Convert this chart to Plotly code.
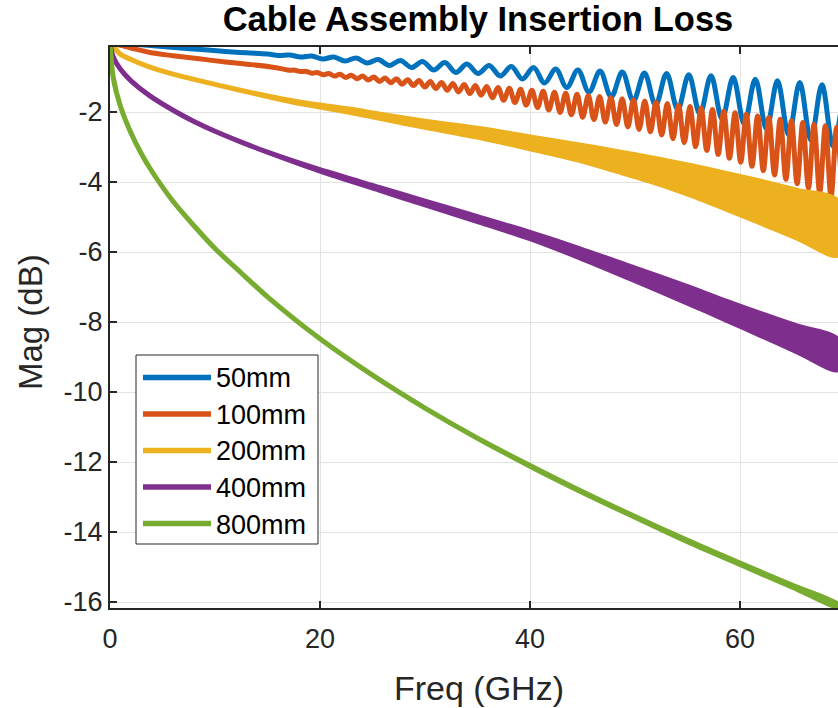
import plotly.graph_objects as go

# ---------------- data ----------------
names = ["50mm", "100mm", "200mm", "400mm", "800mm"]
colors = ["#0072BD", "#D95319", "#EDB120", "#7E2F8E", "#77AC30"]

# 50mm: smooth start, then alternating ripple peaks / troughs
f50 = [0, 2.6, 5, 8, 11, 13, 14.99, 16.05, 17.10, 18.15, 19.21, 20.27, 21.32, 22.38,
       23.44, 24.49, 25.55, 26.60, 27.66, 28.72, 29.77, 30.83, 31.89, 32.94, 34.00,
       35.05, 36.11, 37.17, 38.22, 39.28, 40.34, 41.39, 42.45, 43.50, 44.56, 45.62,
       46.67, 47.73, 48.79, 49.84, 50.90, 51.96, 53.01, 54.07, 55.12, 56.18, 57.24,
       58.29, 59.35, 60.40, 61.46, 62.52, 63.57, 64.63, 65.69, 66.74, 67.80, 68.86, 69.91]
mag50 = [0, -0.07, -0.13, -0.2, -0.27, -0.31, -0.343, -0.386, -0.371, -0.429, -0.4,
         -0.486, -0.429, -0.543, -0.457, -0.6, -0.5, -0.671, -0.529, -0.729, -0.557,
         -0.8, -0.586, -0.871, -0.629, -0.9, -0.671, -0.971, -0.7, -1.057, -0.729,
         -1.171, -0.771, -1.3, -0.8, -1.429, -0.829, -1.571, -0.857, -1.686, -0.886,
         -1.8, -0.9, -1.929, -0.937, -2.057, -0.966, -2.2, -1.014, -2.343, -1.063,
         -2.486, -1.109, -2.657, -1.157, -2.8, -1.223, -2.971, -1.286]

# 100mm: smooth start, then ripple peaks and troughs
f100_start = [0, 0.7, 2, 3.8, 6, 8.5, 11, 13.3, 15.5]
mag100_start = [0, -0.07, -0.17, -0.3, -0.39, -0.48, -0.57, -0.64, -0.72]
f100_peak = [16.52, 17.60, 18.68, 19.75, 20.83, 21.90, 22.98, 24.05, 25.13, 26.20,
             27.28, 28.35, 29.43, 30.50, 31.58, 32.65, 33.73, 34.80, 35.88, 36.95,
             38.03, 39.10, 40.18, 41.25, 42.33, 43.40, 44.48, 45.55, 46.63, 47.70,
             48.78, 49.85, 50.93, 52.00, 53.08, 54.15, 55.23, 56.30, 57.38, 58.45,
             59.53, 60.60, 61.68, 62.75, 63.83, 64.90, 65.98, 67.05, 68.13, 69.20]
mag100_peak = [-0.775, -0.805, -0.84, -0.871, -0.897, -0.923, -0.949, -0.974, -1.003,
               -1.029, -1.051, -1.077, -1.1, -1.129, -1.157, -1.186, -1.211, -1.24,
               -1.269, -1.297, -1.323, -1.351, -1.377, -1.406, -1.434, -1.463, -1.494,
               -1.526, -1.557, -1.589, -1.62, -1.651, -1.683, -1.714, -1.757, -1.8,
               -1.843, -1.889, -1.931, -1.977, -2.02, -2.063, -2.111, -2.157, -2.206,
               -2.251, -2.3, -2.349, -2.394, -2.443]
f100_trough = [17.06, 18.14, 19.21, 20.29, 21.37, 22.44, 23.52, 24.59, 25.67, 26.74,
               27.82, 28.89, 29.97, 31.04, 32.12, 33.19, 34.27, 35.34, 36.42, 37.49,
               38.57, 39.64, 40.72, 41.79, 42.87, 43.94, 45.02, 46.09, 47.17, 48.24,
               49.32, 50.39, 51.47, 52.54, 53.62, 54.69, 55.77, 56.84, 57.92, 58.99,
               60.07, 61.14, 62.22, 63.29, 64.37, 65.44, 66.52, 67.59, 68.67, 69.74]
mag100_trough = [-0.805, -0.845, -0.89, -0.937, -0.974, -1.011, -1.049, -1.086, -1.126,
                 -1.166, -1.206, -1.246, -1.286, -1.331, -1.38, -1.426, -1.474, -1.523,
                 -1.594, -1.663, -1.731, -1.803, -1.871, -1.94, -2.011, -2.08, -2.149,
                 -2.217, -2.289, -2.357, -2.426, -2.497, -2.566, -2.657, -2.766, -2.877,
                 -2.989, -3.097, -3.209, -3.32, -3.431, -3.549, -3.674, -3.797, -3.923,
                 -4.049, -4.174, -4.3, -4.423, -4.549]

# 200mm / 400mm / 800mm: ripple too dense to resolve -> upper / lower envelope
f200 = [0, 0.3, 1, 2, 3.8, 6, 9, 12, 15, 17.6, 20, 22.8, 25.7, 30, 35.2, 40, 44.7,
        48, 52.3, 55.5, 58.8, 62, 65.5, 69.3]
upper200 = [0, -0.12, -0.35, -0.5, -0.72, -0.92, -1.14, -1.35, -1.54, -1.69, -1.80,
            -1.915, -2.06, -2.26, -2.47, -2.71, -2.94, -3.11, -3.35, -3.54, -3.76,
            -3.98, -4.24, -4.54]
lower200 = [0, -0.12, -0.35, -0.5, -0.72, -0.92, -1.14, -1.35, -1.56, -1.73, -1.86,
            -2.005, -2.18, -2.44, -2.73, -3.05, -3.38, -3.67, -4.06, -4.4, -4.79,
            -5.18, -5.61, -6.09]

f400 = [0, 0.3, 1, 2, 3.8, 6.3, 8, 10, 12.5, 15.2, 20, 25.7, 30, 35, 40, 44.7, 50, 55,
        58.8, 62, 65.5, 69.3]
upper400 = [0, -0.42, -0.78, -1.11, -1.54, -2.0, -2.27, -2.55, -2.86, -3.17, -3.65,
            -4.16, -4.545, -4.99, -5.44, -5.9, -6.46, -6.99, -7.42, -7.76, -8.12, -8.5]
lower400 = [0, -0.42, -0.78, -1.11, -1.54, -2.0, -2.27, -2.55, -2.86, -3.17, -3.69,
            -4.24, -4.655, -5.13, -5.62, -6.16, -6.82, -7.46, -7.96, -8.39, -8.86, -9.36]

f800 = [0, 0.3, 1, 2, 3, 4, 6, 8, 10, 12.5, 15, 20, 25, 30, 35, 40, 45, 50, 55, 60, 65,
        69.3]
upper800 = [0, -1.0, -1.84, -2.6, -3.2, -3.7, -4.55, -5.25, -5.9, -6.6, -7.28, -8.48,
            -9.52, -10.46, -11.32, -12.1, -12.85, -13.56, -14.24, -14.89, -15.52, -16.06]
lower800 = [0, -1.0, -1.84, -2.6, -3.2, -3.7, -4.55, -5.25, -5.9, -6.6, -7.28, -8.48,
            -9.52, -10.46, -11.32, -12.12, -12.87, -13.58, -14.28, -14.93, -15.58, -16.14]

x_ticks = [0, 20, 40, 60]
x_ticktext = ["0", "20", "40", "60"]
y_ticks = [-16, -14, -12, -10, -8, -6, -4, -2]
y_ticktext = ["-16", "-14", "-12", "-10", "-8", "-6", "-4", "-2"]

# ---------------- figure ----------------
FONT = "Liberation Sans, Arial, Helvetica, sans-serif"
AX = "#262626"
LW = 5

# assemble 100mm series (start + interleaved peaks / troughs)
ripple100 = sorted(list(zip(f100_peak, mag100_peak)) + list(zip(f100_trough, mag100_trough)))
f100 = f100_start + [p[0] for p in ripple100]
mag100 = mag100_start + [p[1] for p in ripple100]

fig = go.Figure()
fig.add_trace(go.Scatter(x=f50, y=mag50, mode="lines", name=names[0], showlegend=False,
                         line=dict(color=colors[0], width=LW, shape="spline", smoothing=1)))
fig.add_trace(go.Scatter(x=f100, y=mag100, mode="lines", name=names[1], showlegend=False,
                         line=dict(color=colors[1], width=LW, shape="spline", smoothing=1)))

for name, col, fx, up, lo in [(names[2], colors[2], f200, upper200, lower200),
                              (names[3], colors[3], f400, upper400, lower400),
                              (names[4], colors[4], f800, upper800, lower800)]:
    fig.add_trace(go.Scatter(x=fx + fx[::-1], y=up + lo[::-1], mode="lines", name=name,
                             showlegend=False, fill="toself", fillcolor=col,
                             line=dict(color=col, width=LW, shape="spline", smoothing=0.8)))

# plot-area geometry (pixels)
L, R, T, B = 110, 838, 47, 608
W, H = 838, 708
PX = 10.5   # px per GHz
PY = 35.0   # px per dB
xmax = (R - L) / PX
ymax = -2 + (112 - T) / PY
ymin = -2 - (B - 112) / PY

def px(xp):
    return (xp - L) / (R - L)

def py(yp):
    return (B - yp) / (B - T)

shapes = []
annotations = []
# legend box
shapes.append(dict(type="rect", xref="paper", yref="paper", x0=px(136), x1=px(318),
                   y0=py(544), y1=py(355), line=dict(color=AX, width=1),
                   fillcolor="white", layer="above"))
leg_y = [377.5, 414, 450.5, 487, 523.5]
for i, (name, col) in enumerate(zip(names, colors)):
    shapes.append(dict(type="line", xref="paper", yref="paper", x0=px(143), x1=px(211),
                       y0=py(leg_y[i]), y1=py(leg_y[i]), line=dict(color=col, width=5.5),
                       layer="above"))
    annotations.append(dict(text=name, xref="paper", yref="paper", x=px(214),
                            y=py(leg_y[i] + 1), xanchor="left", yanchor="middle",
                            showarrow=False, font=dict(family=FONT, size=27, color="black")))

# axis titles (axes centre lies at ~478 px: the right part of the axes is cropped)
annotations.append(dict(text="Freq (GHz)", xref="paper", yref="paper", x=px(479), y=py(688),
                        xanchor="center", yanchor="middle", showarrow=False,
                        font=dict(family=FONT, size=34, color=AX)))
annotations.append(dict(text="Mag (dB)", xref="paper", yref="paper", x=px(30), y=py(322),
                        xanchor="center", yanchor="middle", showarrow=False, textangle=-90,
                        font=dict(family=FONT, size=33, color=AX)))

fig.update_layout(
    width=W, height=H,
    margin=dict(l=L, r=W - R, t=T, b=H - B, pad=0),
    paper_bgcolor="white", plot_bgcolor="white",
    title=dict(text="<b>Cable Assembly Insertion Loss</b>", x=px(478), xref="paper",
               y=1 - 19 / H, yref="container", xanchor="center", yanchor="middle",
               font=dict(family=FONT, size=34.5, color="black")),
    xaxis=dict(range=[0, xmax], tickvals=x_ticks, ticktext=x_ticktext, ticks="inside",
               ticklen=7, tickwidth=2, tickcolor=AX, showline=True, linecolor=AX,
               linewidth=2, mirror="ticks", showgrid=True, gridcolor="#e2e2e2",
               gridwidth=1, zeroline=False, ticklabelstandoff=6,
               tickfont=dict(family=FONT, size=27, color=AX)),
    yaxis=dict(range=[ymin, ymax], tickvals=y_ticks, ticktext=y_ticktext, ticks="inside",
               ticklen=7, tickwidth=2, tickcolor=AX, showline=True, linecolor=AX,
               linewidth=2, mirror=False, showgrid=True, gridcolor="#e2e2e2",
               gridwidth=1, zeroline=False,
               tickfont=dict(family=FONT, size=27, color=AX)),
    shapes=shapes, annotations=annotations, showlegend=False,
)

fig.write_html("out.html")
